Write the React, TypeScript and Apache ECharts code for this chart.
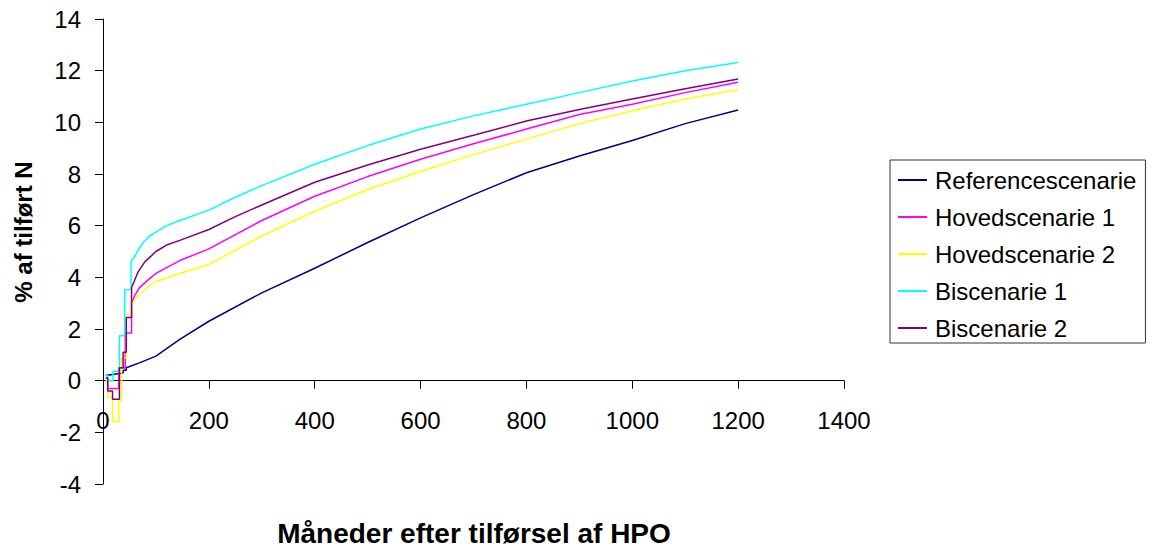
import React, { useEffect, useRef } from "react";
import * as echarts from "echarts";

const seriesNames = ["Referencescenarie", "Hovedscenarie 1", "Hovedscenarie 2", "Biscenarie 1", "Biscenarie 2"];
const seriesColors = ["#000080", "#FF00FF", "#FFFF00", "#00FFFF", "#800080"];

const refMonths = [5, 38, 38, 44, 44, 70, 100, 145, 200, 300, 400, 500, 600, 700, 800, 900, 1000, 1100, 1200];
const refValues = [0.2, 0.3, 0.4, 0.4, 0.5, 0.7, 0.95, 1.6, 2.3, 3.4, 4.35, 5.35, 6.3, 7.2, 8.05, 8.7, 9.3, 9.95, 10.48];

const hov1Months = [5, 9, 9, 30, 30, 42, 42, 54, 54, 60, 69, 88, 100, 145, 200, 300, 400, 500, 600, 700, 800, 900, 1000, 1100, 1200];
const hov1Values = [0, 0, -0.3, -0.3, 0.49, 0.49, 1.85, 1.85, 3.0, 3.3, 3.6, 3.95, 4.15, 4.65, 5.1, 6.2, 7.14, 7.9, 8.57, 9.17, 9.74, 10.3, 10.7, 11.15, 11.55];

const hov2Months = [5, 9, 9, 18, 18, 30, 30, 35, 35, 44, 44, 55, 55, 65, 80, 95, 145, 200, 300, 400, 500, 600, 700, 800, 900, 1000, 1100, 1200];
const hov2Values = [0, 0, -0.65, -0.65, -1.58, -1.58, -0.8, -0.8, 0.88, 0.88, 2.55, 2.55, 3.0, 3.27, 3.55, 3.8, 4.15, 4.5, 5.6, 6.56, 7.4, 8.1, 8.75, 9.35, 9.95, 10.45, 10.9, 11.26];

const bis1Months = [5, 9, 9, 19, 19, 31, 31, 41, 41, 53, 53, 60, 67, 76, 88, 100, 120, 145, 200, 250, 300, 400, 500, 600, 700, 800, 900, 1000, 1100, 1200];
const bis1Values = [0.2, 0.2, 0.0, 0.0, 0.36, 0.36, 1.74, 1.74, 3.53, 3.53, 4.62, 4.8, 5.08, 5.35, 5.6, 5.75, 6.0, 6.2, 6.6, 7.1, 7.55, 8.38, 9.1, 9.74, 10.25, 10.7, 11.15, 11.6, 12.0, 12.32];

const bis2Months = [5, 9, 9, 18, 18, 31, 31, 38, 38, 44, 44, 54, 54, 66, 79, 100, 120, 145, 200, 250, 300, 400, 500, 600, 700, 800, 900, 1000, 1100, 1200];
const bis2Values = [0.1, 0.1, -0.4, -0.4, -0.72, -0.72, 0.5, 0.5, 1.1, 1.1, 2.45, 2.45, 3.6, 4.2, 4.6, 5.0, 5.25, 5.43, 5.85, 6.35, 6.8, 7.68, 8.35, 8.96, 9.5, 10.05, 10.5, 10.9, 11.3, 11.68];

const xTicks = { min: 0, max: 1400, interval: 200 };
const yTicks = { min: -4, max: 14, interval: 2 };

const FONT = "'Liberation Sans', Arial, sans-serif";

const GRID = { left: 103, right: 313, top: 19, bottom: 63 };
const CHART_H = 547;

function pairs(xs: number[], ys: number[]) {
  return xs.map((x, i) => [x, ys[i]]);
}

export default function App() {
  const ref = useRef<HTMLDivElement>(null);
  useEffect(() => {
    if (!ref.current) return;
    const chart = echarts.init(ref.current, undefined, { renderer: "svg" });
    const allMonths = [refMonths, hov1Months, hov2Months, bis1Months, bis2Months];
    const allValues = [refValues, hov1Values, hov2Values, bis1Values, bis2Values];
    // place the x axis (line, ticks, labels) at y = 0
    const plotH = CHART_H - GRID.top - GRID.bottom;
    const zeroFromBottom = (plotH * (0 - yTicks.min)) / (yTicks.max - yTicks.min);
    chart.setOption({
      animation: false,
      backgroundColor: "#ffffff",
      grid: { ...GRID, containLabel: false },
      xAxis: {
        type: "value",
        min: xTicks.min,
        max: xTicks.max,
        interval: xTicks.interval,
        offset: -zeroFromBottom,
        axisLine: { show: true, onZero: false, lineStyle: { color: "#000", width: 1 } },
        axisTick: { show: true, length: 8, lineStyle: { color: "#000" } },
        splitLine: { show: false },
        axisLabel: {
          color: "#000",
          fontSize: 24,
          fontFamily: FONT,
          margin: 28,
          formatter: (v: number) => String(v),
        },
      },
      yAxis: {
        type: "value",
        min: yTicks.min,
        max: yTicks.max,
        interval: yTicks.interval,
        axisLine: { show: true, lineStyle: { color: "#000", width: 1 } },
        axisTick: { show: true, length: 8, lineStyle: { color: "#000" } },
        splitLine: { show: false },
        axisLabel: { color: "#000", fontSize: 24, fontFamily: FONT, margin: 22 },
      },
      legend: {
        orient: "vertical",
        left: 890,
        top: 160,
        padding: [6, 9, 1, 8],
        itemGap: 9,
        itemWidth: 29,
        itemHeight: 2,
        icon: "rect",
        borderColor: "#333",
        borderWidth: 1,
        selectedMode: false,
        textStyle: { color: "#000", fontSize: 24, fontFamily: FONT, lineHeight: 28, padding: [0, 0, 0, 3] },
        data: seriesNames,
      },
      graphic: [
        {
          type: "text",
          x: 23,
          y: 232,
          rotation: Math.PI / 2,
          style: {
            text: "% af tilført N",
            fontSize: 24,
            fontWeight: "bold",
            fontFamily: FONT,
            fill: "#000",
            textAlign: "center",
            textVerticalAlign: "middle",
          },
        },
        {
          type: "text",
          x: 474,
          y: 533,
          style: {
            text: "Måneder efter tilførsel af HPO",
            fontSize: 28,
            fontWeight: "bold",
            fontFamily: FONT,
            fill: "#000",
            textAlign: "center",
            textVerticalAlign: "middle",
          },
        },
      ],
      series: seriesNames.map((name, i) => ({
        name,
        type: "line",
        symbol: "none",
        data: pairs(allMonths[i], allValues[i]),
        lineStyle: { color: seriesColors[i], width: 1.5 },
        itemStyle: { color: seriesColors[i] },
      })),
    });
    return () => chart.dispose();
  }, []);
  return <div ref={ref} style={{ position: "absolute", left: 0, top: 0, width: 1157, height: 547 }} />;
}
